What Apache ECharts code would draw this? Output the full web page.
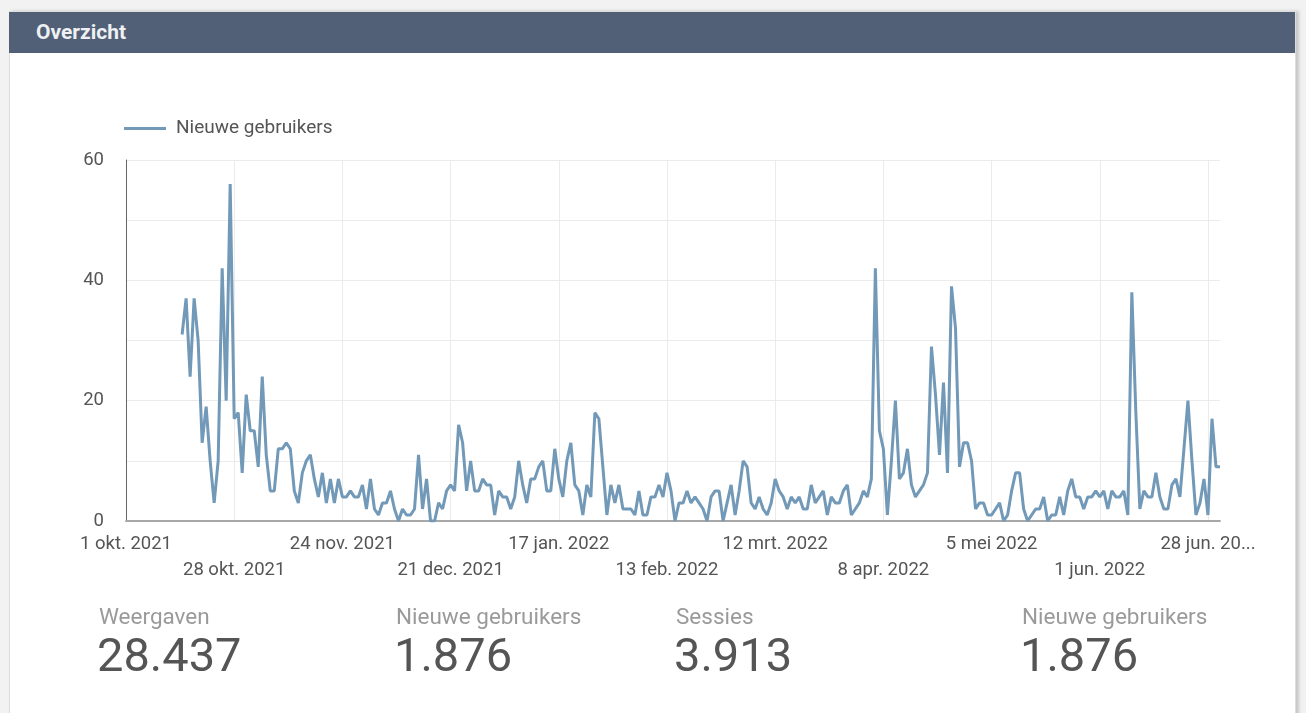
<!DOCTYPE html>
<html>
<head>
<meta charset="utf-8">
<script src="https://cdn.jsdelivr.net/npm/echarts@6/dist/echarts.min.js"></script>
<style>
  html, body { margin: 0; padding: 0; width: 1306px; height: 713px; overflow: hidden; background: #f2f2f2; font-family: Roboto, "Noto Sans", sans-serif; }
  #card { position: absolute; left: 9px; top: 11px; width: 1285px; height: 720px; background: #fff; border: 1px solid #dcdcdc; box-shadow: 3px 0 3px rgba(0,0,0,0.18); }
  #header { position: absolute; left: 9px; top: 12px; width: 1286px; height: 41px; background: #516077; }
  #header span { position: absolute; left: 27px; top: 0; line-height: 40px; font-size: 21px; font-weight: bold; color: #eef0f3; }
  #chart { position: absolute; left: 0; top: 0; width: 1306px; height: 713px; }
  .kpi { position: absolute; }
  .kpi .lbl { position: absolute; left: 0; top: 0; white-space: nowrap; font-size: 22.5px; line-height: 26px; color: #9a9a9a; }
  .kpi .val { position: absolute; left: -2px; top: 25px; white-space: nowrap; font-size: 47px; line-height: 54px; color: #555; }
</style>
</head>
<body>
<div id="card"></div>
<div id="header"><span>Overzicht</span></div>
<div id="chart"></div>
<div id="kpis"></div>
<script>
// ---- data ----
const seriesName = 'Nieuwe gebruikers';
const firstDate = '2021-10-01';
const lastDate = '2022-07-01';
const dataStartIndex = 14; // first measured day: 15 okt. 2021
const newUsers = [
  31,37,24,37,30,13,19,10,3,10,
  42,20,56,17,18,8,21,15,15,9,
  24,11,5,5,12,12,13,12,5,3,
  8,10,11,7,4,8,3,7,3,7,
  4,4,5,4,4,6,2,7,2,1,
  3,3,5,2,0,2,1,1,2,11,
  2,7,0,0,3,2,5,6,5,16,
  13,5,10,5,5,7,6,6,1,5,
  4,4,2,4,10,6,3,7,7,9,
  10,5,5,12,7,4,10,13,6,5,
  1,6,4,18,17,9,1,6,3,6,
  2,2,2,1,5,1,1,4,4,6,
  4,8,5,0,3,3,5,3,4,3,
  2,0,4,5,5,0,3,6,1,5,
  10,9,3,2,4,2,1,3,7,5,
  4,2,4,3,4,2,2,6,3,4,
  5,1,4,3,3,5,6,1,2,3,
  5,4,7,42,15,12,1,10,20,7,
  8,12,6,4,5,6,8,29,21,11,
  23,8,39,32,9,13,13,10,2,3,
  3,1,1,2,3,0,1,5,8,8,
  2,0,1,2,2,4,0,1,1,4,
  1,5,7,4,4,2,4,4,5,4,
  5,2,5,4,4,5,1,38,18,2,
  5,4,4,8,4,2,2,6,7,4,
  12,20,10,1,3,7,1,17,9,9
];
const xTickStep = 27;
const xTickLabels = ['1 okt. 2021','28 okt. 2021','24 nov. 2021','21 dec. 2021','17 jan. 2022','13 feb. 2022','12 mrt. 2022','8 apr. 2022','5 mei 2022','1 jun. 2022','28 jun. 20...'];
const yTickLabels = [0, 20, 40, 60];
const kpiLabels = ['Weergaven', 'Nieuwe gebruikers', 'Sessies', 'Nieuwe gebruikers'];
const kpiValues = ['28.437', '1.876', '3.913', '1.876'];

// ---- build ----
const categories = [];
for (let d = new Date(firstDate + 'T00:00:00Z'); d <= new Date(lastDate + 'T00:00:00Z'); d.setUTCDate(d.getUTCDate() + 1)) {
  categories.push(d.toISOString().slice(0, 10));
}
const seriesData = categories.map((c, i) => (i >= dataStartIndex && i - dataStartIndex < newUsers.length) ? newUsers[i - dataStartIndex] : null);

const kpiLeft = [99, 396, 676, 1022];
const kpiBox = document.getElementById('kpis');
kpiLabels.forEach((l, i) => {
  const d = document.createElement('div');
  d.className = 'kpi';
  d.style.left = kpiLeft[i] + 'px';
  d.style.top = '603px';
  d.innerHTML = '<div class="lbl"></div><div class="val"></div>';
  d.querySelector('.lbl').textContent = l;
  d.querySelector('.val').textContent = kpiValues[i];
  kpiBox.appendChild(d);
});

const chart = echarts.init(document.getElementById('chart'), null, { renderer: 'canvas' });
const tickShown = (idx) => idx % xTickStep === 0;
chart.setOption({
  backgroundColor: 'transparent',
  textStyle: { fontFamily: 'Roboto' },
  animation: false,
  legend: {
    data: [seriesName],
    left: 119, top: 114,
    icon: 'rect', itemWidth: 42, itemHeight: 3,
    textStyle: { fontSize: 19, color: '#555', fontFamily: 'Roboto', padding: [0, 0, 0, 5] }
  },
  grid: { left: 126, right: 86, top: 160, bottom: 192, containLabel: false },
  xAxis: {
    type: 'category',
    data: categories,
    boundaryGap: false,
    axisLine: { show: true, lineStyle: { color: '#a8a8a8', width: 2 } },
    axisTick: { show: false },
    splitLine: { show: true, interval: tickShown, lineStyle: { color: '#ebebeb', width: 1 } },
    axisLabel: {
      interval: tickShown,
      margin: 10,
      fontSize: 18.5,
      color: '#555',
      fontFamily: 'Roboto',
      lineHeight: 26,
      formatter: (v, idx) => {
        const k = Math.round(idx / xTickStep);
        const t = xTickLabels[k] || '';
        return k % 2 === 1 ? '\n' + t : t;
      }
    }
  },
  yAxis: {
    type: 'value',
    min: 0, max: 60, interval: 10,
    axisLine: { show: true, lineStyle: { color: '#666', width: 1 } },
    axisTick: { show: false },
    splitLine: { show: true, lineStyle: { color: '#ebebeb', width: 1 } },
    axisLabel: {
      margin: 22, fontSize: 18.5, color: '#555', fontFamily: 'Roboto',
      formatter: (v) => yTickLabels.indexOf(v) >= 0 ? String(v) : ''
    }
  },
  series: [{
    name: seriesName,
    type: 'line',
    data: seriesData,
    symbol: 'none',
    showSymbol: false,
    lineStyle: { color: '#7299b7', width: 3 },
    itemStyle: { color: '#7299b7' }
  }]
});
</script>
</body>
</html>
